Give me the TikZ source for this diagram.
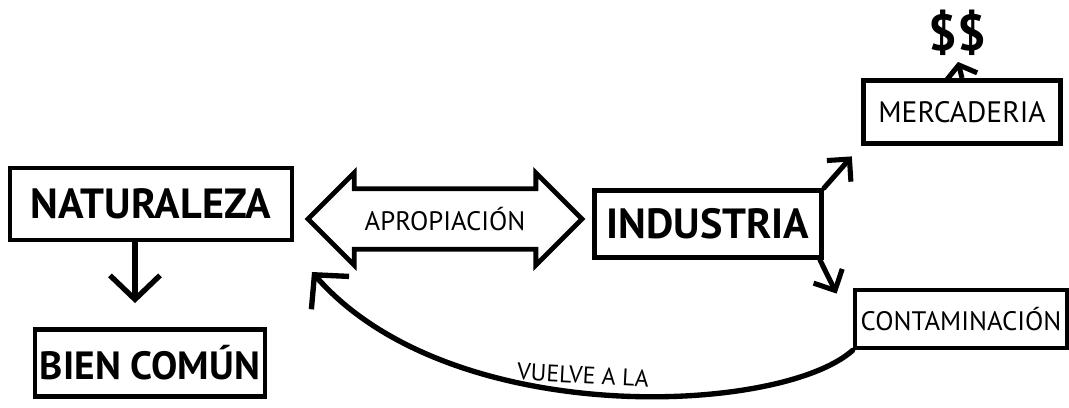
\documentclass[tikz,border=0pt]{standalone}
\usepackage{fontspec}
\setmainfont{PT Sans}
\usetikzlibrary{arrows.meta,shapes.arrows}
\tikzset{
  caja/.style={draw,line width=3.4pt,inner sep=0pt},
  flecha/.style={line width=3.8pt,line cap=round,-{Straight Barb[length=0.6cm,width=1.25cm]}},
  flechita/.style={line width=3.6pt,line cap=round,-{Straight Barb[length=0.4cm,width=0.8cm]}},
}
\begin{document}
\begin{tikzpicture}[x=0.025cm,y=-0.025cm]
  \useasboundingbox (0,0) rectangle (1069,407);

  % Drawing box NATURALEZA
  \node[caja,minimum width=7.05cm,minimum height=1.8cm] (naturaleza) at (151,204) {\fontsize{30}{30}\selectfont\bfseries NATURALEZA};

  % Drawing box BIEN COMUN
  \node[caja,minimum width=5.75cm,minimum height=1.675cm] (biencomun) at (150,363) {\fontsize{28}{28}\selectfont\bfseries BIEN COMÚN};

  % Drawing double arrow APROPIACION
  \node[draw,line width=3.4pt,shape=double arrow,double arrow head extend=0.4cm,
        minimum height=6.85cm,inner ysep=0.4cm,inner xsep=0.1cm] (apropiacion) at (445,219)
        {\fontsize{19}{19}\selectfont APROPIACIÓN};

  % Drawing box INDUSTRIA
  \node[caja,minimum width=5.675cm,minimum height=1.675cm] (industria) at (708,224) {\fontsize{30}{30}\selectfont\bfseries INDUSTRIA};

  % Drawing box MERCADERIA
  \node[caja,minimum width=4.925cm,minimum height=1.575cm] (mercaderia) at (962,112) {\fontsize{21}{21}\selectfont MERCADERIA};

  % Drawing box CONTAMINACION
  \node[caja,minimum width=5.3cm,minimum height=1.45cm] (contaminacion) at (961,319) {\fontsize{19}{19}\selectfont CONTAMINACIÓN};

  % Marking money
  \node[inner sep=0.05cm] (dinero) at (957,33) {\fontsize{36}{36}\selectfont\bfseries \$\$};

  % Drawing arrows out of the boxes
  \draw[flecha,shorten >=0.6cm] ([xshift=-0.4cm]naturaleza.south) -- ([xshift=-0.4cm]naturaleza.south |- biencomun.north);
  \draw[flechita,shorten >=0.35cm] (industria.north east) -- (mercaderia.south west);
  \draw[flechita] ([xshift=-0.1cm]industria.south east) -- ([shift={(-0.4cm,-0.15cm)}]contaminacion.north west);
  \draw[line width=3.6pt,shorten >=0.1cm,-{Straight Barb[length=0.3cm,width=0.8cm]}] (mercaderia.north) -- (dinero.south);

  % Drawing the way back
  \coordinate (retorno) at (312,272);
  \draw[flecha] (contaminacion.south west) .. controls (780,415) and (450,430) .. (retorno);
  \node[rotate=-3] (vuelve) at (583,375) {\fontsize{17}{17}\selectfont VUELVE A LA};
\end{tikzpicture}
\end{document}
